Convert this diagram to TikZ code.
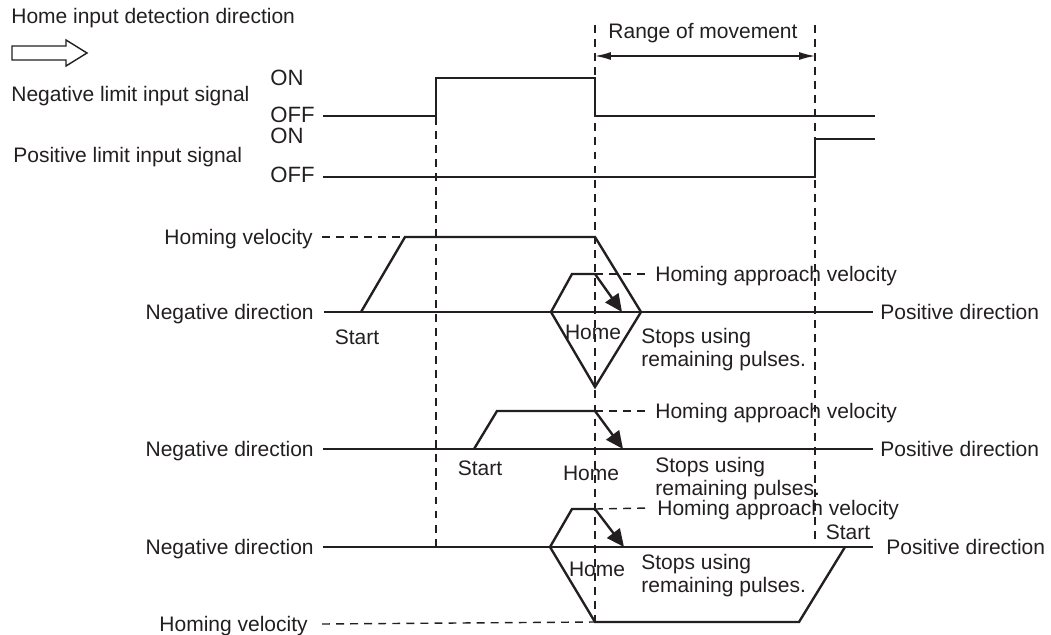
\documentclass[tikz,border=0pt]{standalone}
\usepackage{fontspec}
\setmainfont{Liberation Sans}
\usepackage{xcolor}
\usetikzlibrary{arrows.meta}
\definecolor{ink}{HTML}{231F20}

\begin{document}
\begin{tikzpicture}[x=0.02cm,y=-0.02cm,font=\fontsize{11.95}{13.1}\selectfont,
    every node/.style={inner sep=0pt,text=ink},
    sig/.style={line width=1.3pt,draw=ink},
    axis/.style={line width=.8pt,draw=ink},
    prof/.style={line width=1.35pt,draw=ink},
    guide/.style={line width=.8pt,draw=ink,dash pattern=on 4.5pt off 3.5pt},
    stoparrow/.style={-{Triangle[length=10pt,width=9pt]}},
    onoff/.style={anchor=west,font=\fontsize{12.6}{14}\selectfont},
    lbl/.style={text height=8.6pt,text depth=0pt},
    twoline/.style={anchor=west,align=left}]
      \useasboundingbox (0,0) rectangle (1051,635);
      \node[anchor=west] (title) at (11,18) {Home input detection direction};
      \draw[line width=.8pt,draw=ink] (12,46) -- (66,46) -- (66,40) -- (87,53) -- (66,66) -- (66,60) -- (12,60) -- cycle;
      \node[anchor=west] (nlim) at (11,96) {Negative limit input signal};
      \node[onoff] (non) at (270,78) {ON};
      \node[onoff] (noff) at (270,115) {OFF};
      \node[anchor=west] (plim) at (13,157) {Positive limit input signal};
      \node[onoff] (pon) at (270,136) {ON};
      \node[onoff] (poff) at (270,175) {OFF};
      \draw[sig] (323,116) -- (436,116) -- (436,78) -- (595,78) -- (595,116) -- (875,116);
      \draw[sig] (323,177) -- (815,177) -- (815,139) -- (875,139);
      \draw[guide] (436,117) -- (436,547);
      \draw[guide] (595,25) -- (595,622);
      \draw[guide] (815,25) -- (815,541);
      \node (range) at (703,33) {Range of movement};
      \draw[axis,{Latex[length=9pt,width=4.5pt]}-{Latex[length=9pt,width=4.5pt]}] (595,56) -- (815,56);
      % first row
      \coordinate (top1) at (405,237);
      \coordinate (app1) at (595,274);
      \node[lbl,anchor=east] (hv1) at (313,237) {Homing velocity};
      \node[lbl,anchor=east] (neg1) at (314,312) {Negative direction};
      \node[lbl,anchor=west] (pos1) at (880,312) {Positive direction};
      \draw[axis] ([xshift=5.5pt]neg1.east) -- ([xshift=-4pt]pos1.west);
      \draw[guide] ([xshift=5pt]hv1.east) -- (top1);
      \draw[prof] (361,312) -- (top1) -- (595,237) -- (641,312) -- (595,387) -- (551,312) -- (572,274) -- (app1);
      \draw[prof,stoparrow] (app1) -- (622,312);
      \node[lbl,anchor=west] (hav1) at (655,274) {Homing approach velocity};
      \draw[guide] (app1) -- ([xshift=-3pt]hav1.west);
      \node (start1) at (357,337) {Start};
      \node (home1) at (593,332) {Home};
      \node[twoline] (stops1) at (641,350) {Stops using\\remaining pulses.};
      % second row
      \coordinate (app2) at (595,411);
      \node[lbl,anchor=east] (neg2) at (314,449) {Negative direction};
      \node[lbl,anchor=west] (pos2) at (880,449) {Positive direction};
      \draw[axis] ([xshift=5pt]neg2.east) -- ([xshift=-4pt]pos2.west);
      \draw[prof] (474,449) -- (497,411) -- (app2);
      \draw[prof,stoparrow] (app2) -- (623,449);
      \node[lbl,anchor=west] (hav2) at (655,411) {Homing approach velocity};
      \draw[guide] (app2) -- ([xshift=-3pt]hav2.west);
      \node (start2) at (480,468) {Start};
      \node (home2) at (591,473) {Home};
      \node[twoline] (stops2) at (655,479) {Stops using\\remaining pulses.};
      % third row
      \coordinate (app3) at (595,509);
      \coordinate (bot3) at (595,622);
      \node[lbl,anchor=east] (neg3) at (314,547) {Negative direction};
      \node[lbl,anchor=west] (pos3) at (886,547) {Positive direction};
      \draw[axis] ([xshift=5pt]neg3.east) -- ([xshift=-7.5pt]pos3.west);
      \draw[prof] (845,547) -- (799,622) -- (bot3) -- (550,547) -- (572,509) -- (app3);
      \draw[prof,stoparrow] (app3) -- (624,547);
      \node[lbl,anchor=west] (hav3) at (657,508) {Homing approach velocity};
      \draw[guide] (app3) -- ([xshift=-4.5pt]hav3.west);
      \node[lbl,anchor=east] (hv3) at (308,624) {Homing velocity};
      \draw[guide] ([xshift=8pt]hv3.east) -- (bot3);
      \node (start3) at (848,532) {Start};
      \node (home3) at (597,569) {Home};
      \node[twoline] (stops3) at (641,576) {Stops using\\remaining pulses.};
    \end{tikzpicture}
\end{document}
